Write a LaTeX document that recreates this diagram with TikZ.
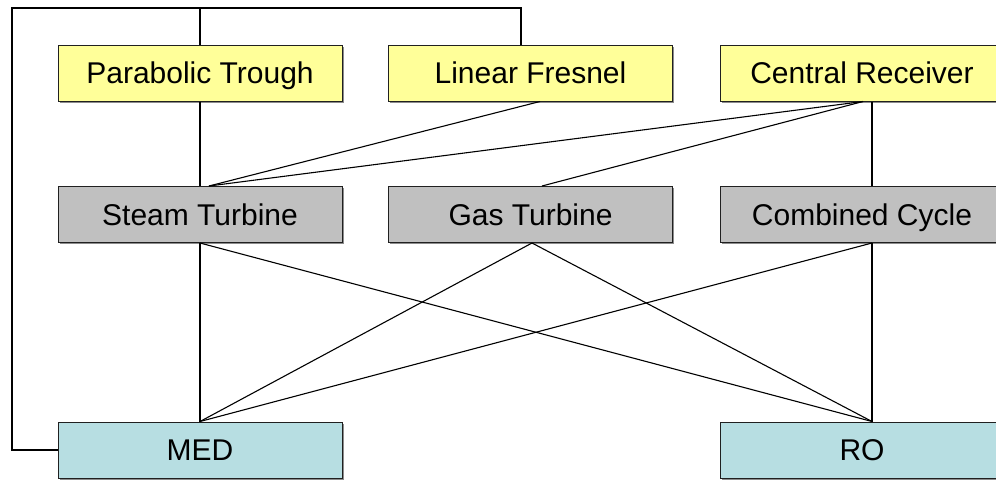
\documentclass[tikz,border=0pt]{standalone}
\usepackage{fontspec}
\setmainfont{Liberation Sans}
\usetikzlibrary{shadows}
\definecolor{srcyellow}{HTML}{FFFF99}
\definecolor{plantgray}{HTML}{C0C0C0}
\definecolor{desalcyan}{HTML}{B7DEE2}
\definecolor{edgecol}{HTML}{202020}
\tikzset{
  box/.style={draw=edgecol, line width=1pt, minimum width=284pt, minimum height=56pt,
    inner sep=0pt, font=\fontsize{30}{33}\selectfont, text height=24.5pt, text depth=3.2pt,
    drop shadow={shadow xshift=1.5pt, shadow yshift=-1.5pt, fill=black!45, opacity=1}},
  srcbox/.style={box, fill=srcyellow},
  plantbox/.style={box, fill=plantgray},
  desalbox/.style={box, fill=desalcyan},
  link/.style={draw=black, line width=1.1pt}
}
\begin{document}
\begin{tikzpicture}[x=1pt, y=-1pt]
\useasboundingbox (0,0) rectangle (996,480);
% sources
\node[srcbox] (pt) at (200,73) {Parabolic Trough};
\node[srcbox] (lf) at (530.5,73) {Linear Fresnel};
\node[srcbox] (cr) at (862,73) {Central Receiver};
% power cycles
\node[plantbox] (st) at (200,214.5) {Steam Turbine};
\node[plantbox] (gt) at (530.5,214.5) {Gas Turbine};
\node[plantbox] (cc) at (862,214.5) {Combined Cycle};
% desalination
\node[desalbox] (med) at (200,450) {MED};
\node[desalbox] (ro) at (862,450) {RO};
% connection points
\coordinate (ltop) at (12,8);
\coordinate (lbot) at (12,450);
\coordinate (lfin) at ([xshift=-9.5pt]lf.north);
\coordinate (lfout) at ([xshift=9.5pt]lf.south);
\coordinate (crd) at ([xshift=1pt]cr.south);
\coordinate (crv) at ([xshift=10pt]cr.south);
\coordinate (stu) at ([xshift=9pt]st.north);
\coordinate (gtu) at ([xshift=11.5pt]gt.north);
\coordinate (gtd) at ([xshift=1.5pt]gt.south);
\coordinate (ccd) at ([xshift=10pt]cc.south);
\coordinate (ccu) at ([xshift=10pt]cc.north);
\coordinate (rou) at ([xshift=10pt]ro.north);
% loop from MED back to the sources
\draw[link] (med.west) -- (lbot) -- (ltop) -| (lfin);
\draw[link] (pt.north) -- (pt.north |- ltop);
% sources to cycles
\draw[link] (pt.south) -- (st.north);
\draw[link] (stu) -- (lfout);
\draw[link] (stu) -- (crd);
\draw[link] (gtu) -- (crd);
\draw[link] (crv) -- (ccu);
% cycles to desalination
\draw[link] (st.south) -- (med.north);
\draw[link] (st.south) -- (rou);
\draw[link] (gtd) -- (med.north);
\draw[link] (gtd) -- (rou);
\draw[link] (ccd) -- (med.north);
\draw[link] (ccd) -- (rou);
\end{tikzpicture}
\end{document}
